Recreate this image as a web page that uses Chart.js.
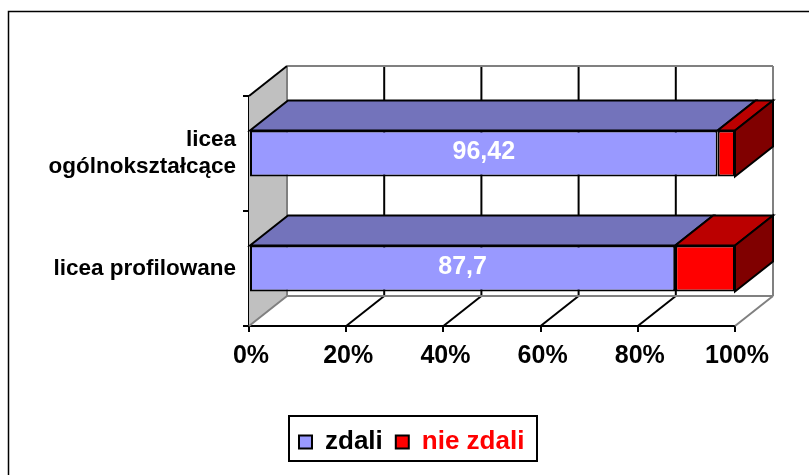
<!DOCTYPE html>
<html>
<head>
<meta charset="utf-8">
<style>body{margin:0;background:#fff}</style>
<script src="https://cdn.jsdelivr.net/npm/chart.js@4/dist/chart.umd.js"></script>
</head>
<body>
<canvas id="chart" width="809" height="475"></canvas>
<script>
const categories = [['licea', 'ogólnokształcące'], 'licea profilowane'];
const zdali = [96.42, 87.7];
const nieZdali = [3.58, 12.3];
const zdaliLabels = ['96,42', '87,7'];
const xTickLabels = ['0%', '20%', '40%', '60%', '80%', '100%'];
const seriesNames = ['zdali', 'nie zdali'];

const DX = 38, DY = -30;
const FONT = '"Liberation Sans", Arial, sans-serif';

function poly(ctx, pts, fill, stroke, lw) {
  ctx.beginPath();
  pts.forEach((p, i) => i ? ctx.lineTo(p[0], p[1]) : ctx.moveTo(p[0], p[1]));
  ctx.closePath();
  if (fill) { ctx.fillStyle = fill; ctx.fill(); }
  if (stroke) { ctx.strokeStyle = stroke; ctx.lineWidth = lw; ctx.stroke(); }
}

function line(ctx, x1, y1, x2, y2, color, lw) {
  ctx.beginPath();
  ctx.moveTo(x1, y1);
  ctx.lineTo(x2, y2);
  ctx.strokeStyle = color;
  ctx.lineWidth = lw;
  ctx.stroke();
}

const fake3d = {
  id: 'fake3d',
  afterLayout(chart) {
    // right edge stays wide so the two items do not wrap
    const lg = chart.legend;
    lg.left = 286; lg.right = 809; lg.top = 416; lg.bottom = 461;
  },
  beforeDraw(chart) {
    // page frame runs off the right and bottom edges
    const ctx = chart.ctx;
    ctx.save();
    ctx.strokeStyle = '#000';
    ctx.lineWidth = 1.5;
    ctx.strokeRect(8.5, 11.5, 900, 600);
    ctx.restore();
  },
  beforeDatasetsDraw(chart) {
    const ctx = chart.ctx, a = chart.chartArea, x = chart.scales.x;
    ctx.save();
    // side wall
    poly(ctx, [[a.left, a.top], [a.left + DX, a.top + DY], [a.left + DX, a.bottom + DY], [a.left, a.bottom]], '#c0c0c0');
    // back wall grid
    xTickLabels.forEach((t, i) => {
      if (i === 0 || i === xTickLabels.length - 1) return;
      const px = x.getPixelForValue(i * 20);
      line(ctx, px + DX, a.top + DY, px + DX, a.bottom + DY, '#000', 2);
      line(ctx, px, a.bottom, px + DX, a.bottom + DY, '#000', 2);
    });
    // wall outline
    line(ctx, a.left + DX, a.top + DY, a.right + DX, a.top + DY, '#808080', 2);
    line(ctx, a.left + DX, a.top + DY, a.left + DX, a.bottom + DY, '#808080', 2);
    line(ctx, a.right + DX, a.top + DY, a.right + DX, a.bottom + DY, '#808080', 2);
    line(ctx, a.left + DX, a.bottom + DY, a.right + DX, a.bottom + DY, '#808080', 2);
    line(ctx, a.left, a.bottom, a.left + DX, a.bottom + DY, '#808080', 2);
    line(ctx, a.right, a.bottom, a.right + DX, a.bottom + DY, '#808080', 2);
    line(ctx, a.left, a.top, a.left + DX, a.top + DY, '#000', 2);
    // bar tops and ends
    const tops = ['#7373bb', '#bb0000'];
    const ends = [null, '#800000'];
    chart.data.datasets.forEach((ds, d) => {
      chart.getDatasetMeta(d).data.forEach(b => {
        const l = Math.min(b.x, b.base), r = Math.max(b.x, b.base);
        const t = b.y - b.height / 2, bt = b.y + b.height / 2;
        poly(ctx, [[l, t], [l + DX, t + DY], [r + DX, t + DY], [r, t]], tops[d], '#000', 2);
        if (ends[d]) poly(ctx, [[r, t], [r + DX, t + DY], [r + DX, bt + DY], [r, bt]], ends[d], '#000', 2);
      });
    });
    ctx.restore();
  },
  afterDatasetsDraw(chart) {
    const ctx = chart.ctx;
    ctx.save();
    ctx.fillStyle = '#fff';
    ctx.font = 'bold 25px ' + FONT;
    ctx.textAlign = 'center';
    ctx.textBaseline = 'middle';
    chart.getDatasetMeta(0).data.forEach((b, i) => {
      ctx.fillText(zdaliLabels[i], (b.x + b.base) / 2, b.y - 1);
    });
    ctx.restore();
  },
  afterDraw(chart) {
    // frame around the legend
    const ctx = chart.ctx;
    ctx.save();
    ctx.strokeStyle = '#000';
    ctx.lineWidth = 2;
    ctx.strokeRect(289, 416, 248, 45);
    ctx.restore();
  }
};

new Chart(document.getElementById('chart'), {
  type: 'bar',
  data: {
    labels: categories,
    datasets: [
      { label: seriesNames[0], data: zdali, backgroundColor: '#9999ff', borderColor: '#000', borderWidth: 2, borderSkipped: false },
      { label: seriesNames[1], data: nieZdali, backgroundColor: '#ff0000', borderColor: '#000', borderWidth: 2, borderSkipped: false }
    ]
  },
  options: {
    indexAxis: 'y',
    responsive: false,
    animation: false,
    barPercentage: 0.4,
    categoryPercentage: 1,
    layout: { padding: { top: 96, right: 74, left: 8 } },
    scales: {
      x: {
        stacked: true,
        min: 0,
        max: 100,
        border: { color: '#000', width: 2 },
        grid: { drawOnChartArea: false, tickLength: 6, color: '#000', lineWidth: 2 },
        ticks: {
          stepSize: 20,
          maxRotation: 0,
          autoSkip: false,
          padding: 9,
          labelOffset: 2,
          color: '#000',
          font: { family: FONT, weight: 'bold', size: 25 },
          callback: (v, i) => xTickLabels[i]
        },
        afterFit(s) { s.height = 475 - 326 - s.chart.legend.height; }
      },
      y: {
        stacked: true,
        border: { color: '#000', width: 2 },
        grid: { drawOnChartArea: false, tickLength: 6, color: '#000', lineWidth: 2, offset: true },
        ticks: {
          padding: 7,
          color: '#000',
          font: { family: FONT, weight: 'bold', size: 22.5 }
        },
        afterFit(s) { s.width = 249 - 8; }
      }
    },
    plugins: {
      tooltip: { enabled: false },
      legend: {
        position: 'bottom',
        align: 'start',
        labels: {
          boxWidth: 13,
          boxHeight: 13,
          padding: 13,
          font: { family: FONT, weight: 'bold', size: 26 },
          generateLabels: () => seriesNames.map((name, i) => ({
            text: name,
            fillStyle: ['#9999ff', '#ff0000'][i],
            strokeStyle: '#000',
            lineWidth: 2,
            fontColor: ['#000', '#ff0000'][i],
            datasetIndex: i
          }))
        }
      }
    }
  },
  plugins: [fake3d]
});
</script>
</body>
</html>
